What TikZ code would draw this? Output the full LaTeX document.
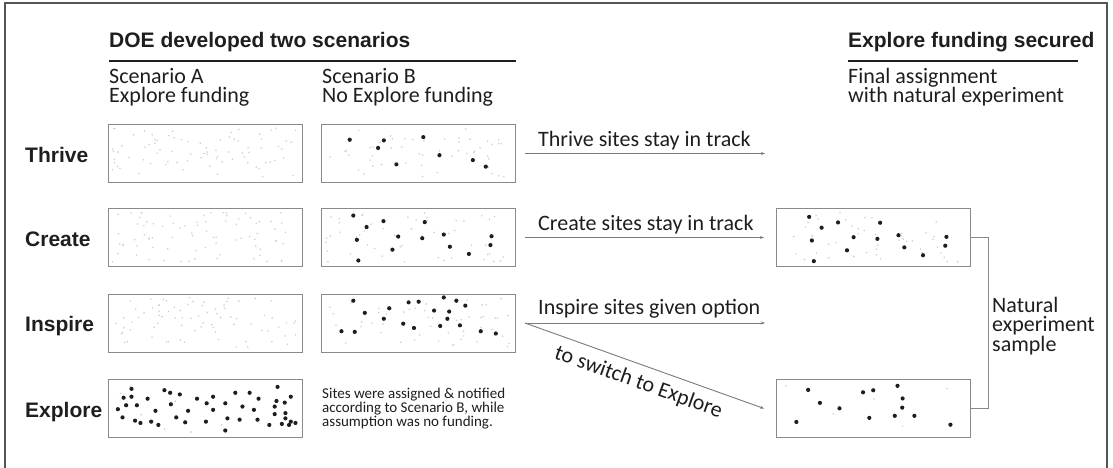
\documentclass[tikz,border=0pt]{standalone}
\usepackage{fontspec}
\setmainfont{Carlito}
\newfontfamily\hfont{Liberation Sans}
\usetikzlibrary{arrows.meta,calc}
\definecolor{ink}{HTML}{1E1E1E}
\definecolor{boxline}{HTML}{8A8A8A}
\definecolor{arrowc}{HTML}{7A7A7A}
\definecolor{framec}{HTML}{555555}
\definecolor{speck}{HTML}{CFCFCF}
\begin{document}
\begin{tikzpicture}[x=1pt,y=-1pt,
  sitebox/.style={draw=boxline,line width=1pt,minimum width=194pt,minimum height=58pt,inner sep=0pt},
  rowlabel/.style={font=\hfont\bfseries\fontsize{21}{24}\selectfont,text=ink,anchor=base west,inner sep=0pt},
  heading/.style={font=\hfont\bfseries\fontsize{21}{24}\selectfont,text=ink,anchor=base west,inner sep=0pt},
  body/.style={font=\fontsize{22}{19.5}\selectfont,text=ink,inner sep=0pt},
  note/.style={font=\fontsize{15}{14}\selectfont,text=ink,inner sep=0pt,align=left},
  flow/.style={draw=arrowc,line width=0.9pt,-{Stealth[length=4pt,width=3pt]}},
  rule/.style={draw=ink,line width=1.2pt},
  dot/.style={fill=ink},
  speckle/.style={fill=speck},
  ]
\useasboundingbox (0,0) rectangle (1113,467);
% frame
\draw[framec,line width=1.3pt] (5,470) -- (5,3) -- (1107,3) -- (1107,470);

% headings
\node[heading] (h1) at (109,47) {DOE developed two scenarios};
\draw[rule] (109,61) -- (516,61);
\node[body,anchor=base west] (sa1) at (109,83) {Scenario A};
\node[body,anchor=base west] (sa2) at (109,102) {Explore funding};
\node[body,anchor=base west] (sb1) at (322,83) {Scenario B};
\node[body,anchor=base west] (sb2) at (322,102) {No Explore funding};

\node[heading] (h2) at (848,47) {Explore funding secured};
\draw[rule] (848,61) -- (1078,61);
\node[body,anchor=base west] (fa1) at (848,83) {Final assignment};
\node[body,anchor=base west] (fa2) at (848,102) {with natural experiment};

% row labels
\node[rowlabel] (lt) at (25,162) {Thrive};
\node[rowlabel] (lc) at (25,246) {Create};
\node[rowlabel] (li) at (25,331.5) {Inspire};
\node[rowlabel] (le) at (25,417) {Explore};

% boxes
\node[sitebox] (ta) at (205,153.5) {};
\node[sitebox] (tb) at (418.5,153.5) {};
\node[sitebox] (ca) at (205,237.5) {};
\node[sitebox] (cb) at (418.5,237.5) {};
\node[sitebox] (ia) at (205,323) {};
\node[sitebox] (ib) at (418.5,323) {};
\node[sitebox] (ea) at (205,408.5) {};
\node[sitebox] (fc) at (873.5,237.5) {};
\node[sitebox] (fe) at (873.5,408.5) {};

% faint specks
\pgfmathsetseed{11}
\foreach \bx/\n in {ta/80,ca/80,ia/80,tb/50,cb/50,ib/50,fc/45,ea/8,fe/5}{
  \begin{scope}[shift={(\bx.north west)}]
    \foreach \k in {1,...,\n}{
      \fill[speckle] ({4+186*rnd},{4+50*rnd}) circle[radius=0.9pt];
    }
  \end{scope}
}

% black dots
\begin{scope}[shift={(tb.north west)},x=0.359pt,y=-0.328pt]
  \foreach \px/\py in {80/48,175/50,159/73,285/40,330/95,210/123,423/110,459/130}
    \fill[dot] (\px,\py) circle[radius=2.1pt];
\end{scope}
\begin{scope}[shift={(cb.north west)},x=0.359pt,y=-0.328pt]
  \foreach \px/\py in {90/23,127/58,174/40,289/43,100/97,215/87,282/92,342/81,359/118,475/86,472/113,199/127,412/140,104/160}
    \fill[dot] (\px,\py) circle[radius=2.1pt];
\end{scope}
\begin{scope}[shift={(ib.north west)},x=0.359pt,y=-0.328pt]
  \foreach \px/\py in {90/22,244/27,272/25,342/12,377/22,402/37,190/45,122/59,315/52,357/55,175/77,352/77,229/92,259/105,332/99,387/97,57/115,94/117,445/115,487/122}
    \fill[dot] (\px,\py) circle[radius=2.1pt];
\end{scope}
\begin{scope}[shift={(ea.north west)},x=0.358pt,y=-0.328pt]
  \foreach \px/\py in {67/30,45/57,67/54,112/60,159/34,175/42,202/47,250/60,295/54,357/42,397/42,422/60,475/24,512/54,472/67,495/72,52/80,82/80,177/77,277/74,329/74,377/84,409/94,467/84,29/92,134/97,225/97,295/94,467/107,497/104,42/117,77/127,92/134,122/130,142/140,192/117,217/132,275/130,335/120,369/124,419/124,452/140,487/137,497/120,512/130,525/134,329/157,507/140}
    \fill[dot] (\px,\py) circle[radius=2.1pt];
\end{scope}
\begin{scope}[shift={(fc.north west)},x=0.390pt,y=-0.328pt]
  \foreach \px/\py in {85/27,117/60,159/44,267/45,92/99,199/89,260/94,314/83,329/120,437/88,434/115,182/129,377/144,97/162}
    \fill[dot] (\px,\py) circle[radius=2.1pt];
\end{scope}
\begin{scope}[shift={(fe.north west)},x=0.392pt,y=-0.341pt]
  \foreach \px/\py in {82/32,112/70,162/86,222/39,248/33,310/20,323/57,322/84,303/108,353/108,238/114,52/126,445/134}
    \fill[dot] (\px,\py) circle[radius=2.1pt];
\end{scope}

% arrows
\coordinate (t0) at (525,153.5);
\coordinate (t1) at (765,153.5);
\coordinate (c0) at (525,237.5);
\coordinate (c1) at ($(fc.west)+(-12,0)$);
\coordinate (i0) at (525,323);
\coordinate (i1) at (765,323);
\coordinate (e1) at ($(fe.west)+(-12,0)$);
\draw[flow] (t0) -- (t1);
\draw[flow] (c0) -- (c1);
\draw[flow] (i0) -- (i1);
\draw[flow] (i0) -- node[body,midway,sloped,below=8pt] (sw) {to switch to Explore} (e1);
\node[body,anchor=base west] (tl) at (538,146) {Thrive sites stay in track};
\node[body,anchor=base west] (cl) at (538,230) {Create sites stay in track};
\node[body,anchor=base west] (il) at (538,314) {Inspire sites given option};

% bracket
\draw[boxline,line width=1pt] (fc.east) -- ++(17,0) |- (fe.east);
\node[body,align=left,anchor=west] (nat) at (992,326) {Natural\\experiment\\sample};

% note
\node[note,anchor=west] (nt) at (322,408.5) {Sites were assigned \& notified\\according to Scenario B, while\\assumption was no funding.};
\end{tikzpicture}
\end{document}
